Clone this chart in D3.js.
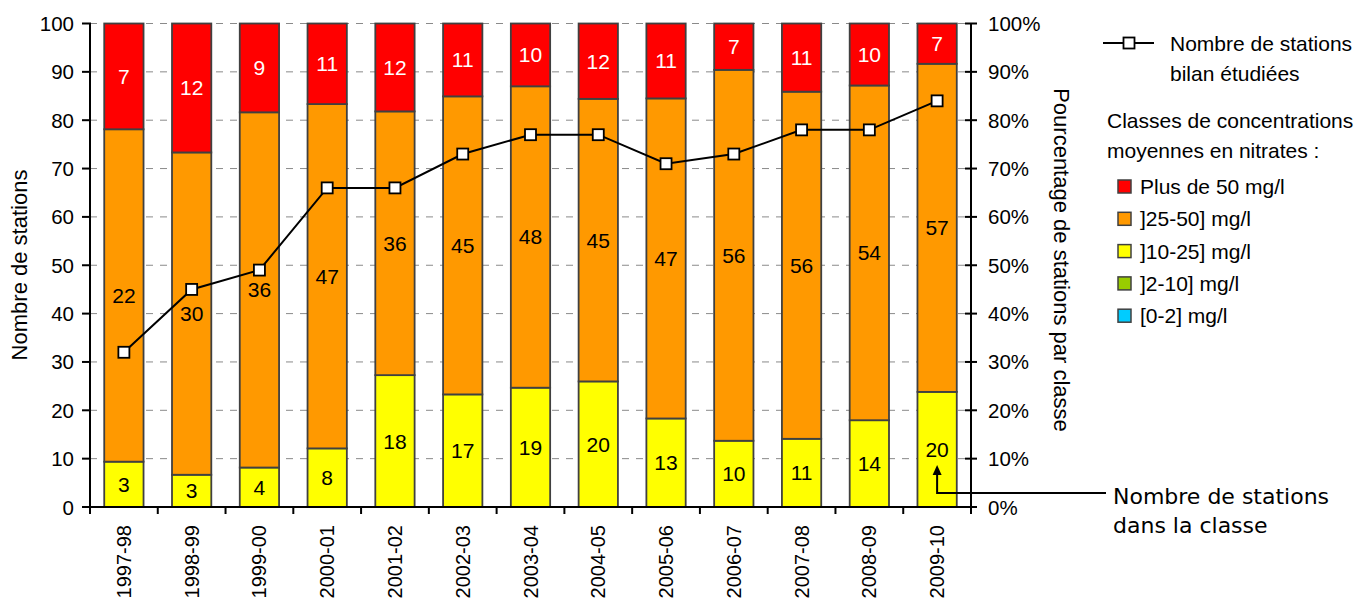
<!DOCTYPE html>
<html>
<head>
<meta charset="utf-8">
<script src="https://cdn.jsdelivr.net/npm/d3@7"></script>
<style>
  html, body { margin: 0; padding: 0; background: #fff; }
  svg { display: block; font-family: "Liberation Sans", Arial, sans-serif; }
</style>
</head>
<body>
<svg id="chart" width="1366" height="604"></svg>
<script>
// Campaign years
const years = ["1997-98", "1998-99", "1999-00", "2000-01", "2001-02", "2002-03", "2003-04",
               "2004-05", "2005-06", "2006-07", "2007-08", "2008-09", "2009-10"];

// Number of stations per nitrate concentration class
const class0to2   = [0, 0, 0, 0, 0, 0, 0, 0, 0, 0, 0, 0, 0];
const class2to10  = [0, 0, 0, 0, 0, 0, 0, 0, 0, 0, 0, 0, 0];
const class10to25 = [3, 3, 4, 8, 18, 17, 19, 20, 13, 10, 11, 14, 20];
const class25to50 = [22, 30, 36, 47, 36, 45, 48, 45, 47, 56, 56, 54, 57];
const classOver50 = [7, 12, 9, 11, 12, 11, 10, 12, 11, 7, 11, 10, 7];

// Total number of stations studied each year
const stationsStudied = [32, 45, 49, 66, 66, 73, 77, 77, 71, 73, 78, 78, 84];

// Class keys, labels and colours (bottom to top)
const classKeys   = ["c0", "c2", "c10", "c25", "c50"];
const classLabels = ["[0-2] mg/l", "]2-10] mg/l", "]10-25] mg/l", "]25-50] mg/l", "Plus de 50 mg/l"];
const classColors = ["#00CCFF", "#99CC00", "#FFFF00", "#FF9900", "#FF0000"];

// Axis ticks
const leftTicks  = [0, 10, 20, 30, 40, 50, 60, 70, 80, 90, 100];
const rightTicks = [0, 0.1, 0.2, 0.3, 0.4, 0.5, 0.6, 0.7, 0.8, 0.9, 1];

const table = years.map((y, i) => ({
  year: y,
  c0: class0to2[i], c2: class2to10[i], c10: class10to25[i],
  c25: class25to50[i], c50: classOver50[i]
}));

const svg = d3.select("#chart");

const plotLeft = 90, plotRight = 971, plotTop = 23.5, plotBottom = 507;

const x = d3.scaleBand().domain(years).range([plotLeft, plotRight]).padding(0);
const barW = x.bandwidth() * 0.58;
const yCount = d3.scaleLinear().domain([0, 100]).range([plotBottom, plotTop]);
const yPct = d3.scaleLinear().domain([0, 1]).range([plotBottom, plotTop]);

// Dashed gridlines
svg.append("g")
  .selectAll("line")
  .data(leftTicks.filter(d => d > 0))
  .join("line")
  .attr("x1", plotLeft).attr("x2", plotRight)
  .attr("y1", d => yCount(d)).attr("y2", d => yCount(d))
  .attr("stroke", "#8a8a8a")
  .attr("stroke-width", 1)
  .attr("stroke-dasharray", "7,7");

// 100% stacked bars
const series = d3.stack().keys(classKeys).offset(d3.stackOffsetExpand)(table);

const gBars = svg.append("g");
series.forEach((s, k) => {
  gBars.append("g")
    .selectAll("rect")
    .data(s.filter(d => d[1] - d[0] > 0))
    .join("rect")
    .attr("x", d => x(d.data.year) + (x.bandwidth() - barW) / 2)
    .attr("width", barW)
    .attr("y", d => yPct(d[1]))
    .attr("height", d => yPct(d[0]) - yPct(d[1]))
    .attr("fill", classColors[k])
    .attr("stroke", "#404040")
    .attr("stroke-width", 1.8);
});

// Counts inside segments
series.forEach((s, k) => {
  gBars.append("g")
    .selectAll("text")
    .data(s.filter(d => d.data[s.key] > 0))
    .join("text")
    .attr("x", d => x(d.data.year) + x.bandwidth() / 2)
    .attr("y", d => yPct((d[0] + d[1]) / 2) + 7.5)
    .attr("text-anchor", "middle")
    .attr("font-size", 21)
    .attr("fill", classKeys[k] === "c50" ? "#ffffff" : "#000000")
    .text(d => d.data[s.key]);
});

// Line of stations studied
const cx = i => x(years[i]) + x.bandwidth() / 2;
svg.append("path")
  .datum(stationsStudied)
  .attr("d", d3.line().x((d, i) => cx(i)).y(d => yCount(d)))
  .attr("fill", "none")
  .attr("stroke", "#000")
  .attr("stroke-width", 2);

svg.append("g")
  .selectAll("rect")
  .data(stationsStudied)
  .join("rect")
  .attr("x", (d, i) => cx(i) - 5.5)
  .attr("y", d => yCount(d) - 5.5)
  .attr("width", 11).attr("height", 11)
  .attr("fill", "#fff")
  .attr("stroke", "#000")
  .attr("stroke-width", 1.8);

// Left axis
const gL = svg.append("g");
gL.append("line").attr("x1", plotLeft).attr("x2", plotLeft).attr("y1", plotTop).attr("y2", plotBottom)
  .attr("stroke", "#000").attr("stroke-width", 2);
gL.selectAll("line.t").data(leftTicks).join("line").attr("class", "t")
  .attr("x1", plotLeft - 8).attr("x2", plotLeft + 1)
  .attr("y1", d => yCount(d)).attr("y2", d => yCount(d))
  .attr("stroke", "#000").attr("stroke-width", 2);
gL.selectAll("text").data(leftTicks).join("text")
  .attr("x", 74).attr("y", d => yCount(d) + 7.5)
  .attr("text-anchor", "end").attr("font-size", 20.5)
  .text(d => d);

// Right axis
const gR = svg.append("g");
gR.append("line").attr("x1", plotRight).attr("x2", plotRight).attr("y1", plotTop).attr("y2", plotBottom)
  .attr("stroke", "#000").attr("stroke-width", 2);
gR.selectAll("line.t").data(rightTicks).join("line").attr("class", "t")
  .attr("x1", plotRight - 6).attr("x2", plotRight + 6)
  .attr("y1", d => yPct(d)).attr("y2", d => yPct(d))
  .attr("stroke", "#000").attr("stroke-width", 2);
gR.selectAll("text").data(rightTicks).join("text")
  .attr("x", 988).attr("y", d => yPct(d) + 7.5)
  .attr("font-size", 20.5)
  .text(d3.format(".0%"));

// Bottom axis
const gB = svg.append("g");
gB.append("line").attr("x1", plotLeft).attr("x2", plotRight).attr("y1", plotBottom).attr("y2", plotBottom)
  .attr("stroke", "#000").attr("stroke-width", 2);
const bounds = years.map(y => x(y)).concat([plotRight]);
gB.selectAll("line.t").data(bounds).join("line").attr("class", "t")
  .attr("x1", d => d).attr("x2", d => d)
  .attr("y1", plotBottom - 1).attr("y2", plotBottom + 7)
  .attr("stroke", "#000").attr("stroke-width", 2);
gB.selectAll("text").data(years).join("text")
  .attr("transform", d => `translate(${x(d) + x.bandwidth() / 2 + 7},525) rotate(-90)`)
  .attr("text-anchor", "end").attr("font-size", 20)
  .text(d => d);

// Axis titles
svg.append("text")
  .attr("transform", "translate(27,265) rotate(-90)")
  .attr("text-anchor", "middle").attr("font-size", 22)
  .text("Nombre de stations");
svg.append("text")
  .attr("transform", "translate(1054,260) rotate(90)")
  .attr("text-anchor", "middle").attr("font-size", 22)
  .text("Pourcentage de stations par classe");

// Legend
const gLeg = svg.append("g").attr("font-size", 21);
gLeg.append("line").attr("x1", 1103).attr("x2", 1154).attr("y1", 43).attr("y2", 43)
  .attr("stroke", "#000").attr("stroke-width", 2);
gLeg.append("rect").attr("x", 1129 - 5.5).attr("y", 43 - 5.5).attr("width", 11).attr("height", 11)
  .attr("fill", "#fff").attr("stroke", "#000").attr("stroke-width", 1.8);
gLeg.append("text").attr("x", 1170).attr("y", 51).text("Nombre de stations");
gLeg.append("text").attr("x", 1170).attr("y", 81).text("bilan étudiées");
gLeg.append("text").attr("x", 1107).attr("y", 128).text("Classes de concentrations");
gLeg.append("text").attr("x", 1107).attr("y", 158).text("moyennes en nitrates :");

const legendOrder = [4, 3, 2, 1, 0];
legendOrder.forEach((k, j) => {
  const cy = 186.5 + j * 32.3;
  gLeg.append("rect").attr("x", 1118).attr("y", cy - 6.5).attr("width", 13).attr("height", 13)
    .attr("fill", classColors[k]).attr("stroke", "#404040").attr("stroke-width", 1.5);
  gLeg.append("text").attr("x", 1140).attr("y", cy + 7.5).text(classLabels[k]);
});

// Annotation: count in class
const ax = cx(years.length - 1);
svg.append("path")
  .attr("d", `M${ax},474 L${ax},493 L1106,493`)
  .attr("fill", "none").attr("stroke", "#000").attr("stroke-width", 2);
svg.append("path")
  .attr("d", `M${ax},465 L${ax - 4.5},475 L${ax + 4.5},475 Z`)
  .attr("fill", "#000");
const gAnn = svg.append("g").attr("font-family", "'DejaVu Sans', Verdana, sans-serif").attr("font-size", 22);
gAnn.append("text").attr("x", 1113).attr("y", 504).text("Nombre de stations");
gAnn.append("text").attr("x", 1113).attr("y", 533).text("dans la classe");
</script>
</body>
</html>
